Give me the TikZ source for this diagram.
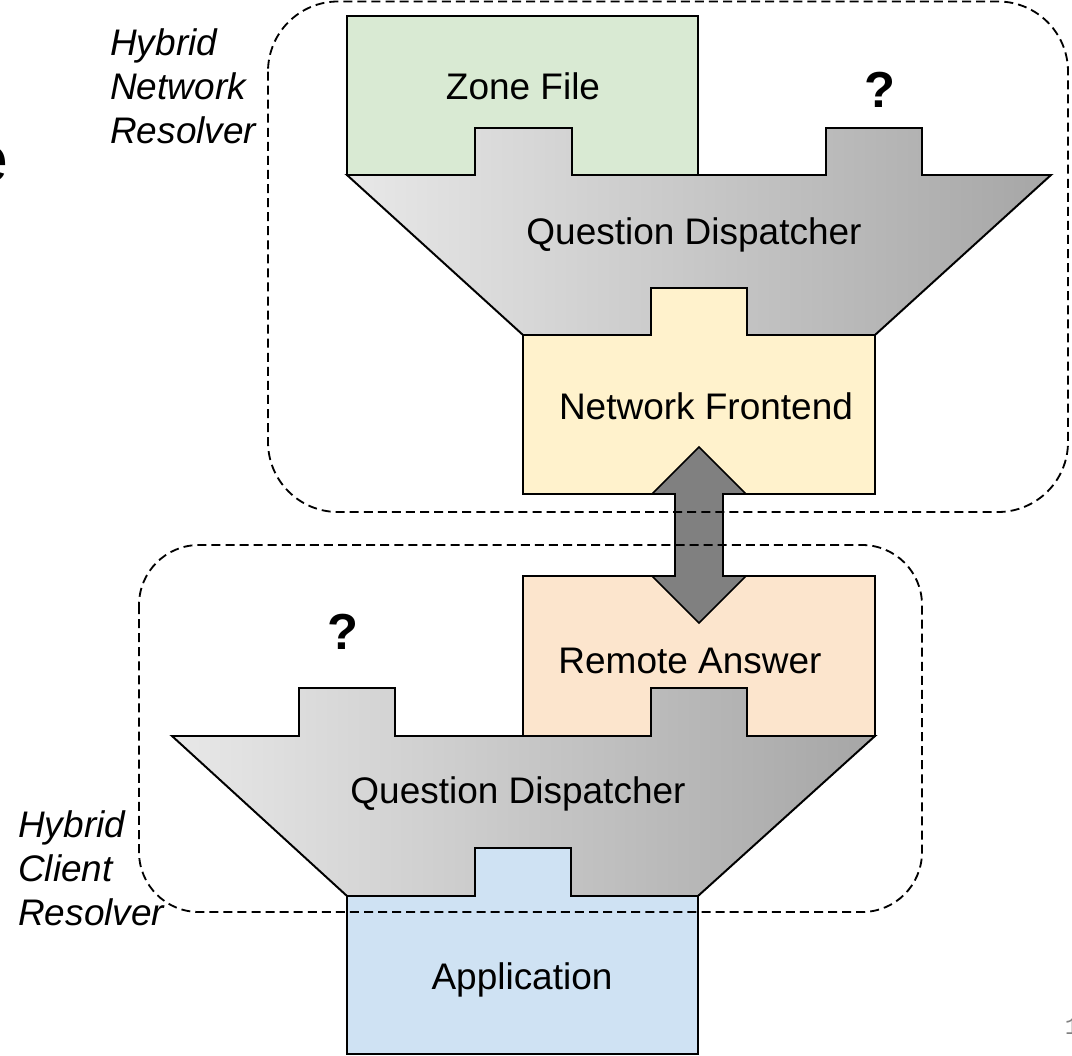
\documentclass[tikz,border=0pt]{standalone}
\usepackage{fontspec}
\setmainfont{Liberation Sans}
\setmonofont{Liberation Mono}
\definecolor{zonegreen}{HTML}{D9EAD3}
\definecolor{frontyellow}{HTML}{FFF2CC}
\definecolor{remoteorange}{HTML}{FCE5CD}
\definecolor{appblue}{HTML}{CFE2F3}
\definecolor{funL}{HTML}{E8E8E8}
\definecolor{funR}{HTML}{A6A6A6}
\definecolor{arrowgray}{HTML}{808080}
\begin{document}
\begin{tikzpicture}[x=0.025cm,y=-0.025cm,
  box/.style={draw=black,line width=1.4pt,line join=miter},
  funnel/.style={box,left color=funL,right color=funR},
  lbl/.style={font=\fontsize{26.3}{31.5}\selectfont,inner sep=0pt},
  side/.style={font=\fontsize{26.3}{31.6}\selectfont\itshape,align=left,anchor=north west,inner sep=0pt},
  ask/.style={font=\fontsize{36}{40}\selectfont\bfseries,inner sep=0pt},
  region/.style={draw=black,line width=1.3pt,dash pattern=on 6.4pt off 3.6pt},
  blockarrow/.style={draw=black,line width=1.2pt,fill=arrowgray,line join=miter}]
\useasboundingbox (0,0) rectangle (1072,1056);

% ---------- network resolver ----------
\draw[box,fill=zonegreen] (347,16) rectangle (698,175);
\node[lbl] (zone) at (523,86) {Zone File};
\node[ask] (askTop) at (880,90) {?};

\draw[funnel] (347,175) -- (475,175) -- (475,128) -- (572,128) -- (572,175)
  -- (826,175) -- (826,128) -- (922,128) -- (922,175) -- (1051,175)
  -- (875,335) -- (747,335) -- (747,288) -- (651,288) -- (651,335)
  -- (523,335) -- cycle;
\node[lbl] (dispTop) at (694,235) {Question Dispatcher};

\draw[box,fill=frontyellow] (523,335) -- (651,335) -- (651,288) -- (747,288)
  -- (747,335) -- (875,335) -- (875,494) -- (523,494) -- cycle;
\node[lbl] (front) at (706,406) {Network Frontend};

% ---------- client resolver ----------
\draw[box,fill=remoteorange] (523,576) rectangle (875,736);
\node[lbl] (remote) at (690,661) {Remote Answer};
\node[ask] (askBot) at (343,632) {?};

\draw[funnel] (172,736) -- (299,736) -- (299,688) -- (395,688) -- (395,736)
  -- (651,736) -- (651,688) -- (747,688) -- (747,736) -- (875,736)
  -- (698,896) -- (571,896) -- (571,848) -- (475,848) -- (475,896)
  -- (347,896) -- cycle;
\node[lbl] (dispBot) at (518,794) {Question Dispatcher};

\draw[box,fill=appblue] (347,896) -- (475,896) -- (475,848) -- (571,848)
  -- (571,896) -- (698,896) -- (698,1054) -- (347,1054) -- cycle;
\node[lbl] (app) at (522,980) {Application};

% ---------- link between the resolvers ----------
\coordinate (linkTop) at (699,447);
\coordinate (linkBot) at (699,623);
\draw[blockarrow] (linkTop) -- (746,494) -- (723,494) -- (723,576) -- (746,576)
  -- (linkBot) -- (652,576) -- (675,576) -- (675,494) -- (652,494) -- cycle;

% ---------- resolver groups ----------
\draw[region,rounded corners=1.75cm] (268,1.5) rectangle (1068,512);
\draw[region,rounded corners=1.5cm] (139,545) rectangle (922,912);

\node[side] (netLabel) at (110,28) {Hybrid\\Network\\Resolver};
\node[side] (cliLabel) at (18,810) {Hybrid\\Client\\Resolver};

% ---------- slide fragments at the edges ----------
\node[font=\fontsize{46}{50}\selectfont,anchor=base east,inner sep=0pt] (edgeLetter) at (9,182) {e};
\node[font=\fontsize{17}{20}\selectfont\ttfamily,text=gray,anchor=base,inner sep=0pt] (pageNo) at (1072,1034) {1};
\end{tikzpicture}
\end{document}
